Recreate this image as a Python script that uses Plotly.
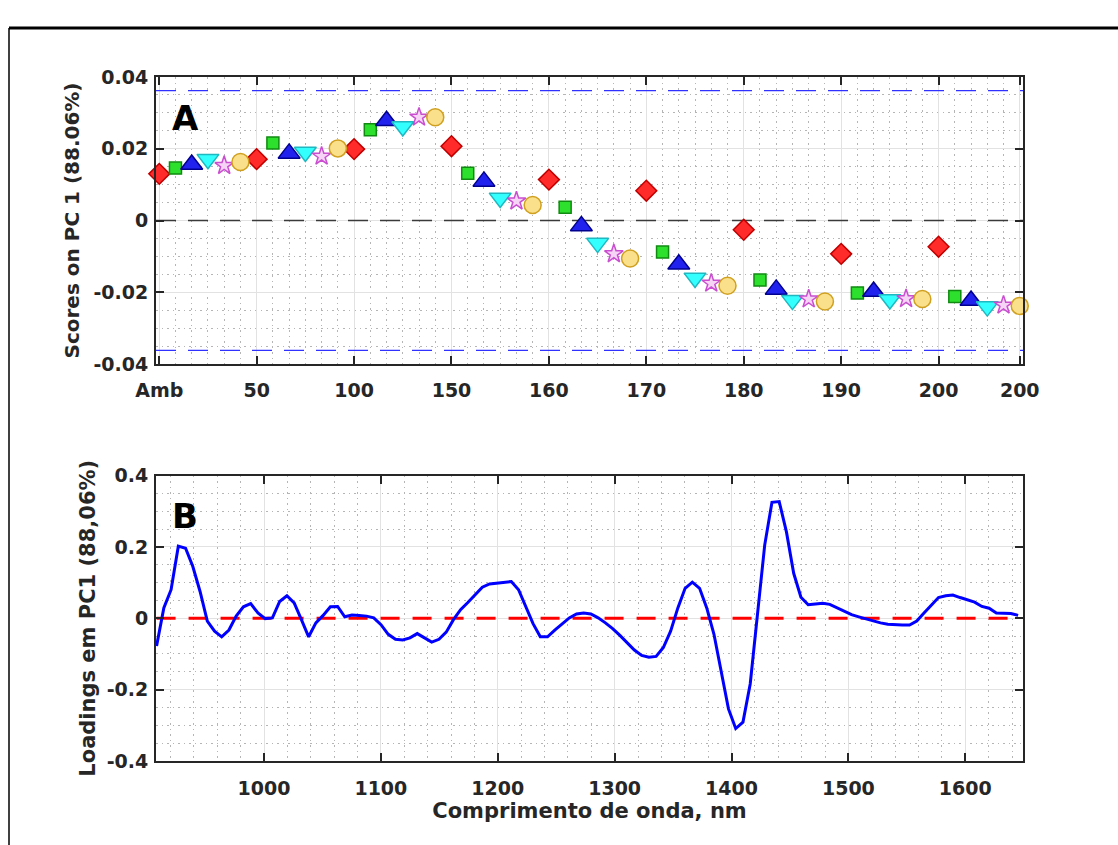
import plotly.graph_objects as go

# ---------------- data ----------------
# Panel A: scores on PC1, samples in acquisition order (6 per group)
tick_positions = [0, 6, 12, 18, 24, 30, 36, 42, 48, 53]
tick_labels = ["Amb", "50", "100", "150", "160", "170", "180", "190", "200", "200"]

scores = [
    0.0130, 0.0146, 0.0156, 0.0171, 0.0153, 0.0163,
    0.0171, 0.0216, 0.0187, 0.0191, 0.0179, 0.0201,
    0.0199, 0.0253, 0.0278, 0.0262, 0.0288, 0.0288,
    0.0207, 0.0132, 0.0109, 0.0063, 0.0054, 0.0043,
    0.0114, 0.0037, -0.0015, -0.0063, -0.0093, -0.0106,
    0.0083, -0.0088, -0.0122, -0.0160, -0.0175, -0.0182,
    -0.0026, -0.0166, -0.0192, -0.0222, -0.0219, -0.0226,
    -0.0093, -0.0202, -0.0198, -0.0220, -0.0218, -0.0219,
    -0.0073, -0.0212, -0.0223, -0.0240, -0.0236, -0.0238,
]
sample_index = list(range(len(scores)))
conf_limit = 0.0362
x_range_a = [-0.2, 53.2]

# Panel B: loadings on PC1
wavelength = [
    908.1, 914.3, 920.5, 926.7, 932.9, 939.1, 945.3, 951.5, 957.7, 963.8,
    970.0, 976.2, 982.4, 988.6, 994.8, 1001.0, 1007.2, 1013.4, 1019.6, 1025.8,
    1032.0, 1038.2, 1044.4, 1050.6, 1056.8, 1063.0, 1069.1, 1075.3, 1081.5, 1087.7,
    1093.9, 1100.1, 1106.3, 1112.5, 1118.7, 1124.9, 1131.1, 1137.3, 1143.5, 1149.7,
    1155.9, 1162.1, 1168.2, 1174.4, 1180.6, 1186.8, 1193.0, 1199.2, 1205.4, 1211.6,
    1217.8, 1224.0, 1230.2, 1236.4, 1242.6, 1248.8, 1255.0, 1261.2, 1267.4, 1273.5,
    1279.7, 1285.9, 1292.1, 1298.3, 1304.5, 1310.7, 1316.9, 1323.1, 1329.3, 1335.5,
    1341.7, 1347.9, 1354.1, 1360.3, 1366.5, 1372.7, 1378.8, 1385.0, 1391.2, 1397.4,
    1403.6, 1409.8, 1416.0, 1422.2, 1428.4, 1434.6, 1440.8, 1447.0, 1453.2, 1459.4,
    1465.6, 1471.8, 1478.0, 1484.1, 1490.3, 1496.5, 1502.7, 1508.9, 1515.1, 1521.3,
    1527.5, 1533.7, 1539.9, 1546.1, 1552.3, 1558.5, 1564.7, 1570.9, 1577.1, 1583.3,
    1589.4, 1595.6, 1601.8, 1608.0, 1614.2, 1620.4, 1626.6, 1632.8, 1639.0, 1645.2,
]
loadings = [
    -0.078, 0.029, 0.080, 0.202, 0.196, 0.145, 0.075, -0.008, -0.036, -0.052,
    -0.033, 0.006, 0.032, 0.041, 0.015, -0.001, 0.001, 0.047, 0.063, 0.043,
    -0.004, -0.052, -0.013, 0.008, 0.032, 0.033, 0.004, 0.009, 0.008, 0.006,
    0.001, -0.018, -0.045, -0.059, -0.061, -0.055, -0.043, -0.055, -0.067, -0.059,
    -0.039, -0.004, 0.024, 0.044, 0.066, 0.087, 0.096, 0.098, 0.100, 0.103,
    0.080, 0.033, -0.015, -0.052, -0.052, -0.033, -0.015, 0.001, 0.012, 0.015,
    0.012, 0.001, -0.013, -0.029, -0.048, -0.069, -0.089, -0.104, -0.109, -0.107,
    -0.082, -0.036, 0.029, 0.084, 0.101, 0.084, 0.029, -0.045, -0.147, -0.254,
    -0.309, -0.291, -0.184, 0.010, 0.205, 0.325, 0.327, 0.242, 0.126, 0.059,
    0.038, 0.040, 0.042, 0.039, 0.030, 0.019, 0.010, 0.004, -0.002, -0.007,
    -0.013, -0.017, -0.019, -0.019, -0.019, -0.008, 0.015, 0.036, 0.058, 0.063,
    0.065, 0.058, 0.052, 0.045, 0.033, 0.028, 0.015, 0.013, 0.013, 0.008,
]

# marker style per position within each group of 6
series_styles = [
    dict(name="Grupo 1", symbol="diamond", size=16, fill="#ff2a2a", edge="#c00000"),
    dict(name="Grupo 2", symbol="square", size=12, fill="#2ee02e", edge="#108a10"),
    dict(name="Grupo 3", symbol="triangle-up", size=19, fill="#2222ee", edge="#00008f"),
    dict(name="Grupo 4", symbol="triangle-down", size=19, fill="#33ffff", edge="#20b8c0"),
    dict(name="Grupo 5", symbol="star", size=14, fill="#f6d4f6", edge="#c94fd0"),
    dict(name="Grupo 6", symbol="circle", size=17, fill="#fbe08c", edge="#d0a020"),
]

# ---------------- figure ----------------
W, H = 1118, 845
L, R, T, B = 156, 95, 77, 84
plot_h = H - T - B

def py(p):  # pixel (from top) -> paper y
    return (H - B - p) / plot_h

def px(p):
    return (p - L) / (W - L - R)

FONT = "DejaVu Sans"
INK = "#262626"

fig = go.Figure()

# reference lines of panel A
for yv, col, wd in [(conf_limit, "#3030ff", 1.2), (-conf_limit, "#3030ff", 1.2), (0, "#3a3a3a", 1.6)]:
    fig.add_trace(go.Scatter(
        x=x_range_a, y=[yv, yv], mode="lines",
        line=dict(color=col, width=wd, dash="20px,12px"),
        xaxis="x", yaxis="y", showlegend=False, hoverinfo="skip",
    ))

for k, st in enumerate(series_styles):
    fig.add_trace(go.Scatter(
        x=sample_index[k::6], y=scores[k::6], mode="markers", name=st["name"],
        marker=dict(symbol=st["symbol"], size=st["size"], color=st["fill"],
                    line=dict(color=st["edge"], width=1.5)),
        xaxis="x", yaxis="y", showlegend=False, cliponaxis=False,
    ))

fig.add_trace(go.Scatter(
    x=[wavelength[0], wavelength[-1]], y=[0, 0], mode="lines",
    line=dict(color="#ff0000", width=3, dash="19px,13px"),
    xaxis="x2", yaxis="y2", showlegend=False, hoverinfo="skip",
))
fig.add_trace(go.Scatter(
    x=wavelength, y=loadings, mode="lines", name="PC1",
    line=dict(color="#0000ff", width=3),
    xaxis="x2", yaxis="y2", showlegend=False,
))

common = dict(
    showline=True, linecolor=INK, linewidth=2, mirror="ticks",
    ticks="inside", ticklen=8, tickwidth=2, tickcolor=INK,
    showgrid=True, gridcolor="#e2e2e2", gridwidth=1, zeroline=False,
    tickfont=dict(family=FONT, size=19, color=INK, weight="bold"),
)
minor_common = dict(showgrid=True, gridcolor="#b5b5b5", gridwidth=1, griddash="1.5px,4px")

top_dom = [py(364), 1.0]
bot_dom = [0.0, py(475.5)]

fig.update_layout(
    width=W, height=H,
    margin=dict(l=L, r=R, t=T, b=B),
    paper_bgcolor="white", plot_bgcolor="white",
    xaxis=dict(common, domain=[0, 1], anchor="y", range=x_range_a,
               tickmode="array", tickvals=tick_positions, ticktext=tick_labels,
               minor=dict(minor_common, tickmode="linear", tick0=0, dtick=1),
               ticklabelstandoff=8),
    yaxis=dict(common, domain=top_dom, anchor="x", range=[-0.04, 0.04],
               tickmode="array", tickvals=[-0.04, -0.02, 0, 0.02, 0.04],
               ticktext=["-0.04", "-0.02", "0", "0.02", "0.04"],
               minor=dict(minor_common, tickmode="linear", tick0=0, dtick=0.005),
               ticklabelstandoff=2,
               title=dict(text="Scores on PC 1 (88.06%)", standoff=8,
                          font=dict(family=FONT, size=20, color=INK, weight="bold"))),
    xaxis2=dict(common, domain=[0, 1], anchor="y2", range=[907.6, 1649.4],
                tickmode="linear", tick0=1000, dtick=100,
                minor=dict(minor_common, tickmode="linear", tick0=1000, dtick=20),
                ticklabelstandoff=9,
                title=dict(text="Comprimento de onda, nm", standoff=1,
                           font=dict(family=FONT, size=21, color=INK, weight="bold"))),
    yaxis2=dict(common, domain=bot_dom, anchor="x2", range=[-0.4, 0.4],
                tickmode="array", tickvals=[-0.4, -0.2, 0, 0.2, 0.4],
                ticktext=["-0.4", "-0.2", "0", "0.2", "0.4"],
                minor=dict(minor_common, tickmode="linear", tick0=0, dtick=0.05),
                ticklabelstandoff=2,
                title=dict(text="Loadings em PC1 (88,06%)", standoff=5,
                           font=dict(family=FONT, size=21, color=INK, weight="bold"))),
    shapes=[
        # outer figure frame (partially visible)
        dict(type="line", xref="paper", yref="paper", x0=px(9), x1=px(1118), y0=py(28), y1=py(28),
             line=dict(color="#000000", width=3)),
        dict(type="line", xref="paper", yref="paper", x0=px(9), x1=px(9), y0=py(28), y1=py(845),
             line=dict(color="#000000", width=1.5)),
    ],
    annotations=[
        dict(text="A", xref="paper", yref="paper", x=px(185), y=py(118), showarrow=False,
             xanchor="center", yanchor="middle",
             font=dict(family=FONT, size=34, color="#000000", weight="bold")),
        dict(text="B", xref="paper", yref="paper", x=px(185), y=py(516), showarrow=False,
             xanchor="center", yanchor="middle",
             font=dict(family=FONT, size=34, color="#000000", weight="bold")),
    ],
)

fig.write_html("out.html", config={"displayModeBar": False},
               post_script="document.body.style.margin='0px';")
